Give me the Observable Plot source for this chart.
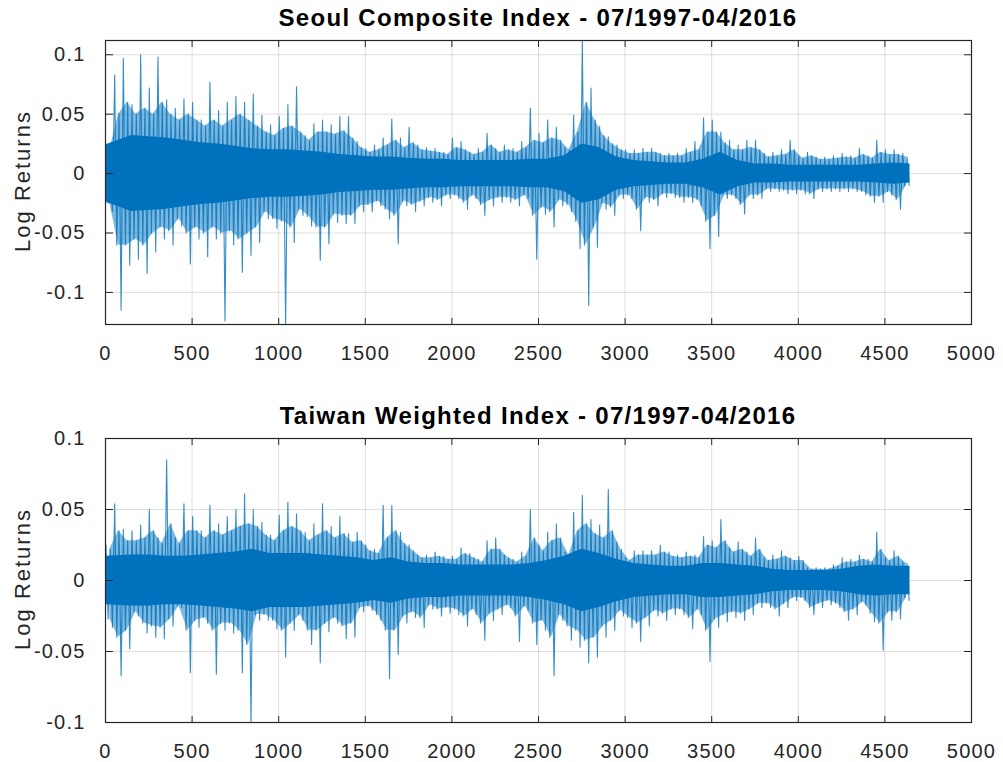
<!DOCTYPE html>
<html>
<head>
<meta charset="utf-8">
<script src="https://cdn.jsdelivr.net/npm/d3@7"></script>
<script src="https://cdn.jsdelivr.net/npm/@observablehq/plot@0.6"></script>
<style>
  body { margin: 0; background: #fff; }
  #fig { position: relative; width: 1003px; height: 762px; font-family: "Liberation Sans", Arial, sans-serif; overflow: hidden; }
  .title { position: absolute; left: 105px; width: 866px; text-align: center; font-weight: bold; font-size: 24px; letter-spacing: 1.3px; line-height: 26px; color: #000; white-space: nowrap; }
  .ylab { position: absolute; width: 220px; height: 26px; line-height: 26px; text-align: center; font-size: 22px; letter-spacing: 2px; color: #262626; transform: rotate(-90deg); white-space: nowrap; }
  .panel { position: absolute; left: 0; }
</style>
</head>
<body>
<div id="fig"></div>
<script>
// ---- data ----
// series: daily log returns, observation index 1..~4645
const seriesLength = 4645;
const binWidth = 50;   // each value is an extreme of one 50-observation window
const coreStep = 100;  // dense-band half-width sampled every 100 observations

const seoulTitle = "Seoul Composite Index - 07/1997-04/2016";
const taiwanTitle = "Taiwan Weighted Index - 07/1997-04/2016";

// tallest up / down spike in each window
const seoulHigh = [
  0.025, 0.083, 0.097, 0.058, 0.100, 0.072, 0.098, 0.062, 0.055, 0.063,
  0.060, 0.045, 0.077, 0.053, 0.060, 0.065, 0.060, 0.067, 0.049, 0.041,
  0.048, 0.058, 0.073, 0.032, 0.042, 0.045, 0.041, 0.048, 0.048, 0.027,
  0.021, 0.024, 0.030, 0.046, 0.030, 0.039, 0.024, 0.022, 0.021, 0.018,
  0.030, 0.027, 0.018, 0.021, 0.034, 0.021, 0.024,
  0.021, 0.027, 0.055, 0.034, 0.045, 0.039, 0.022, 0.049, 0.112, 0.072,
  0.040, 0.031, 0.024, 0.020, 0.020, 0.021, 0.021, 0.017, 0.017, 0.017,
  0.021, 0.027, 0.047, 0.045, 0.035, 0.028, 0.024, 0.028, 0.028, 0.017,
  0.018, 0.020, 0.028, 0.015, 0.018, 0.014, 0.014, 0.015, 0.017, 0.015,
  0.021, 0.015, 0.028, 0.020, 0.020, 0.017
];
const seoulLow = [
  -0.032, -0.115, -0.077, -0.072, -0.084, -0.066, -0.055, -0.060, -0.044, -0.076,
  -0.055, -0.070, -0.055, -0.124, -0.060, -0.083, -0.069, -0.058, -0.038, -0.046,
  -0.128, -0.058, -0.035, -0.044, -0.073, -0.059, -0.041, -0.042, -0.042, -0.032,
  -0.032, -0.027, -0.038, -0.059, -0.027, -0.032, -0.027, -0.024, -0.027, -0.021,
  -0.021, -0.030, -0.021, -0.035, -0.027, -0.024, -0.024,
  -0.027, -0.021, -0.072, -0.034, -0.045, -0.027, -0.032, -0.063, -0.111, -0.062,
  -0.030, -0.035, -0.021, -0.021, -0.048, -0.024, -0.027, -0.020, -0.020, -0.024,
  -0.024, -0.027, -0.063, -0.053, -0.021, -0.021, -0.034, -0.021, -0.021, -0.015,
  -0.015, -0.017, -0.017, -0.017, -0.021, -0.015, -0.015, -0.015, -0.015, -0.015,
  -0.018, -0.024, -0.024, -0.018, -0.030, -0.010
];
// second-tallest up / down spike in each window
const seoulMidHigh = [
  0.020, 0.050, 0.060, 0.050, 0.055, 0.050, 0.060, 0.050, 0.045, 0.050,
  0.045, 0.040, 0.045, 0.040, 0.045, 0.050, 0.045, 0.040, 0.035, 0.032,
  0.038, 0.040, 0.035, 0.028, 0.035, 0.035, 0.033, 0.036, 0.030, 0.022,
  0.018, 0.020, 0.024, 0.028, 0.022, 0.026, 0.020, 0.019, 0.018, 0.016,
  0.022, 0.020, 0.016, 0.018, 0.024, 0.018, 0.020,
  0.018, 0.022, 0.028, 0.026, 0.030, 0.028, 0.020, 0.035, 0.060, 0.045,
  0.032, 0.025, 0.020, 0.017, 0.017, 0.018, 0.018, 0.015, 0.015, 0.015,
  0.018, 0.020, 0.035, 0.035, 0.026, 0.020, 0.020, 0.022, 0.020, 0.014,
  0.015, 0.016, 0.020, 0.013, 0.015, 0.012, 0.012, 0.013, 0.014, 0.013,
  0.016, 0.013, 0.018, 0.016, 0.016, 0.014
];
const seoulMidLow = [
  -0.025, -0.060, -0.060, -0.055, -0.060, -0.050, -0.045, -0.048, -0.038, -0.050,
  -0.045, -0.050, -0.045, -0.050, -0.048, -0.055, -0.050, -0.045, -0.032, -0.038,
  -0.040, -0.045, -0.030, -0.036, -0.045, -0.045, -0.034, -0.035, -0.035, -0.027,
  -0.026, -0.023, -0.030, -0.035, -0.023, -0.026, -0.023, -0.020, -0.022, -0.018,
  -0.018, -0.024, -0.018, -0.026, -0.022, -0.020, -0.020,
  -0.022, -0.018, -0.035, -0.028, -0.032, -0.022, -0.026, -0.040, -0.060, -0.045,
  -0.025, -0.028, -0.018, -0.018, -0.030, -0.020, -0.022, -0.017, -0.017, -0.020,
  -0.020, -0.022, -0.040, -0.035, -0.018, -0.018, -0.026, -0.018, -0.018, -0.013,
  -0.013, -0.014, -0.014, -0.014, -0.017, -0.013, -0.013, -0.013, -0.013, -0.013,
  -0.015, -0.019, -0.019, -0.015, -0.022, -0.010
];
// half-width of the dense band, every 100 observations
const seoulCore = [
  0.024, 0.032, 0.031, 0.030, 0.028, 0.026, 0.025, 0.023, 0.021, 0.020,
  0.020, 0.019, 0.018, 0.016, 0.015, 0.014, 0.014, 0.013, 0.012, 0.012,
  0.011, 0.011, 0.011, 0.011, 0.012, 0.012, 0.015, 0.025, 0.022, 0.014,
  0.011, 0.010, 0.009, 0.009, 0.012, 0.018, 0.011, 0.008, 0.008, 0.007,
  0.007, 0.007, 0.007, 0.007, 0.008, 0.009, 0.008
];

const taiwanHigh = [
  0.025, 0.054, 0.036, 0.035, 0.039, 0.050, 0.030, 0.085, 0.030, 0.054,
  0.045, 0.035, 0.053, 0.040, 0.045, 0.050, 0.061, 0.050, 0.041, 0.032,
  0.046, 0.055, 0.047, 0.034, 0.040, 0.054, 0.038, 0.045, 0.033, 0.034,
  0.025, 0.022, 0.053, 0.053, 0.034, 0.025, 0.018, 0.018, 0.020, 0.017,
  0.017, 0.023, 0.019, 0.015, 0.028, 0.030, 0.018,
  0.015, 0.020, 0.050, 0.025, 0.034, 0.040, 0.020, 0.048, 0.060, 0.043,
  0.039, 0.064, 0.027, 0.016, 0.021, 0.021, 0.021, 0.025, 0.020, 0.018,
  0.020, 0.018, 0.031, 0.028, 0.043, 0.023, 0.027, 0.020, 0.030, 0.016,
  0.018, 0.021, 0.016, 0.017, 0.009, 0.009, 0.009, 0.011, 0.016, 0.015,
  0.018, 0.015, 0.034, 0.016, 0.021, 0.013
];
const taiwanLow = [
  -0.033, -0.067, -0.048, -0.025, -0.037, -0.040, -0.041, -0.032, -0.019, -0.065,
  -0.033, -0.030, -0.066, -0.035, -0.037, -0.065, -0.100, -0.028, -0.028, -0.034,
  -0.054, -0.035, -0.028, -0.045, -0.058, -0.036, -0.030, -0.041, -0.040, -0.022,
  -0.021, -0.028, -0.069, -0.052, -0.030, -0.026, -0.033, -0.020, -0.025, -0.023,
  -0.024, -0.032, -0.024, -0.042, -0.028, -0.024, -0.019,
  -0.043, -0.021, -0.045, -0.035, -0.067, -0.028, -0.042, -0.047, -0.058, -0.054,
  -0.040, -0.035, -0.025, -0.033, -0.043, -0.032, -0.025, -0.028, -0.024, -0.024,
  -0.034, -0.024, -0.057, -0.033, -0.029, -0.026, -0.028, -0.024, -0.019, -0.019,
  -0.025, -0.019, -0.014, -0.014, -0.024, -0.019, -0.017, -0.019, -0.028, -0.024,
  -0.017, -0.029, -0.049, -0.028, -0.027, -0.014
];
const taiwanMidHigh = [
  0.022, 0.035, 0.028, 0.028, 0.030, 0.035, 0.026, 0.040, 0.026, 0.035,
  0.035, 0.030, 0.035, 0.032, 0.035, 0.038, 0.040, 0.038, 0.032, 0.028,
  0.035, 0.038, 0.035, 0.028, 0.032, 0.035, 0.030, 0.033, 0.027, 0.028,
  0.021, 0.019, 0.030, 0.035, 0.026, 0.021, 0.016, 0.016, 0.017, 0.015,
  0.015, 0.019, 0.016, 0.013, 0.022, 0.022, 0.016,
  0.013, 0.017, 0.030, 0.021, 0.028, 0.030, 0.018, 0.035, 0.040, 0.033,
  0.030, 0.035, 0.022, 0.014, 0.018, 0.018, 0.018, 0.020, 0.017, 0.016,
  0.017, 0.016, 0.025, 0.023, 0.028, 0.020, 0.022, 0.017, 0.022, 0.014,
  0.015, 0.017, 0.014, 0.014, 0.008, 0.008, 0.008, 0.010, 0.013, 0.013,
  0.015, 0.013, 0.022, 0.014, 0.017, 0.012
];
const taiwanMidLow = [
  -0.027, -0.040, -0.035, -0.022, -0.030, -0.032, -0.033, -0.027, -0.018, -0.035,
  -0.028, -0.026, -0.035, -0.030, -0.030, -0.035, -0.045, -0.024, -0.024, -0.028,
  -0.035, -0.030, -0.024, -0.035, -0.035, -0.030, -0.026, -0.032, -0.030, -0.019,
  -0.018, -0.024, -0.035, -0.035, -0.025, -0.022, -0.026, -0.017, -0.020, -0.019,
  -0.020, -0.025, -0.020, -0.030, -0.023, -0.020, -0.017,
  -0.025, -0.018, -0.030, -0.028, -0.040, -0.024, -0.032, -0.035, -0.042, -0.040,
  -0.032, -0.028, -0.021, -0.026, -0.030, -0.026, -0.021, -0.023, -0.020, -0.020,
  -0.026, -0.020, -0.035, -0.027, -0.024, -0.022, -0.023, -0.020, -0.016, -0.016,
  -0.020, -0.016, -0.012, -0.012, -0.019, -0.016, -0.014, -0.016, -0.022, -0.020,
  -0.015, -0.023, -0.030, -0.022, -0.022, -0.012
];
const taiwanCore = [
  0.017, 0.018, 0.018, 0.017, 0.017, 0.018, 0.019, 0.020, 0.022, 0.019,
  0.019, 0.019, 0.018, 0.017, 0.016, 0.014, 0.016, 0.013, 0.012, 0.012,
  0.011, 0.011, 0.011, 0.011, 0.012, 0.014, 0.017, 0.022, 0.019, 0.015,
  0.012, 0.011, 0.010, 0.010, 0.012, 0.012, 0.011, 0.010, 0.008, 0.007,
  0.007, 0.007, 0.008, 0.010, 0.011, 0.010, 0.010
];

const xTicks = [0, 500, 1000, 1500, 2000, 2500, 3000, 3500, 4000, 4500, 5000];
const yTicks = [-0.1, -0.05, 0, 0.05, 0.1];
const seoulYDomain = [-0.127, 0.112];
const taiwanYDomain = [-0.1, 0.1];
const yLabel = "Log Returns";

// ---- drawing ----
const blue = "#0072BD";
const ink = "#262626";
const fig = document.getElementById("fig");

function buildPanel(title, high, low, midHigh, midLow, core, yDomain, top) {
  // the line visits, in each window: tallest up spike, second down spike,
  // second up spike, deepest down spike
  const spikes = [];
  high.forEach((h, i) => {
    const x0 = i * binWidth;
    spikes.push({index: x0 + 3, value: h});
    spikes.push({index: x0 + 15, value: midLow[i]});
    spikes.push({index: x0 + 28, value: midHigh[i]});
    spikes.push({index: x0 + 40, value: low[i]});
  });
  // fringe of medium density: between the second-tallest spikes of each window
  const fringe = midHigh.map((m, i) => ({
    index: Math.min(i * binWidth + binWidth / 2, seriesLength),
    hi: m,
    lo: midLow[i]
  }));
  const band = core.map((c, i) => ({
    index: Math.min(i * coreStep + (i ? coreStep / 2 : 0), seriesLength),
    c
  }));

  const plot = Plot.plot({
    width: 1003,
    height: 381,
    marginLeft: 105,
    marginRight: 32,
    marginTop: 40,
    marginBottom: 57,
    style: {fontFamily: '"Liberation Sans", Arial, sans-serif', fontSize: "20px", letterSpacing: "1.2px", color: ink, background: "transparent", overflow: "visible"},
    x: {domain: [0, 5000]},
    y: {domain: yDomain},
    marks: [
      Plot.gridX(xTicks, {stroke: ink, strokeOpacity: 0.15}),
      Plot.gridY(yTicks, {stroke: ink, strokeOpacity: 0.15}),
      Plot.areaY(fringe, {x: "index", y1: "lo", y2: "hi", fill: blue, fillOpacity: 0.5, clip: true}),
      Plot.areaY(band, {x: "index", y1: d => -d.c, y2: d => d.c, fill: blue, clip: true}),
      Plot.lineY(spikes, {x: "index", y: "value", stroke: blue, strokeWidth: 1.1, strokeOpacity: 0.8, clip: true}),
      Plot.frame({stroke: ink, strokeWidth: 1.2}),
      Plot.axisX(xTicks, {anchor: "bottom", tickSize: -6, fill: "none", stroke: ink, label: null}),
      Plot.axisX(xTicks, {anchor: "top", tickSize: -6, fill: "none", stroke: ink, label: null}),
      Plot.axisY(yTicks, {anchor: "left", tickSize: -8, fill: "none", stroke: ink, label: null}),
      Plot.axisY(yTicks, {anchor: "right", tickSize: -8, fill: "none", stroke: ink, label: null}),
      Plot.axisX(xTicks, {anchor: "bottom", tickSize: 0, tickPadding: 21, fill: ink, tickFormat: d => String(d), label: null}),
      Plot.axisY(yTicks, {anchor: "left", tickSize: 0, tickPadding: 20, fill: ink, tickFormat: d => String(d), label: null})
    ]
  });
  plot.classList.add("panel");
  plot.style.top = top + "px";
  fig.appendChild(plot);

  const t = document.createElement("div");
  t.className = "title";
  t.style.top = (top + 5) + "px";
  t.textContent = title;
  fig.appendChild(t);

  const yl = document.createElement("div");
  yl.className = "ylab";
  yl.style.left = (23 - 110) + "px";
  yl.style.top = (top + 181 - 13) + "px";
  yl.textContent = yLabel;
  fig.appendChild(yl);
}

buildPanel(seoulTitle, seoulHigh, seoulLow, seoulMidHigh, seoulMidLow, seoulCore, seoulYDomain, 0);
buildPanel(taiwanTitle, taiwanHigh, taiwanLow, taiwanMidHigh, taiwanMidLow, taiwanCore, taiwanYDomain, 398);
</script>
</body>
</html>
